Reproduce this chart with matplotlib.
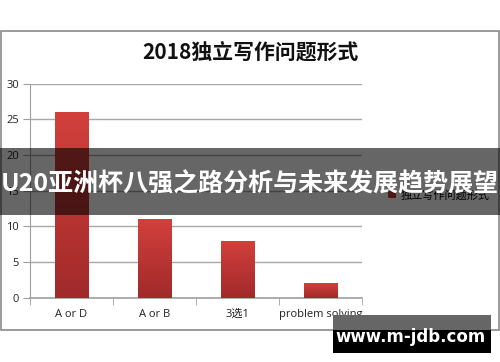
import matplotlib
matplotlib.use("Agg")
import matplotlib.pyplot as plt
from matplotlib.patches import Rectangle
from matplotlib.colors import LinearSegmentedColormap
import numpy as np

categories = ["A or D", "A or B", "3选1", "problem solving"]
values = [26, 11, 8, 2]
yticks = [0, 5, 10, 15, 20, 25, 30]
title = "2018独立写作问题形式"
series_name = "独立写作问题形式"
banner = "U20亚洲杯八强之路分析与未来发展趋势展望"
watermark = "www.m-jdb.com"

plt.rcParams['font.family'] = ['Open Sans', 'Noto Sans CJK SC', 'DejaVu Sans']

W, H = 500, 362
fig = plt.figure(figsize=(W / 100, H / 100), dpi=100)

def fx(x):
    return x / W

def fy(y):
    return 1 - y / H

# chart frame
fig.patches.append(Rectangle((fx(1), fy(329.5)), fx(498), (329.5 - 31) / H,
                             transform=fig.transFigure, facecolor='none',
                             edgecolor='#8a8a8a', linewidth=1.2, zorder=-1))

ax = fig.add_axes([fx(30), fy(297.7), fx(332), (297.7 - 83.5) / H])
ax.set_facecolor('none')
x = np.arange(len(categories))
bars = ax.bar(x, values, width=0.4, color='#c43a37', zorder=3, label=series_name)

# gradient fill
grad = np.linspace(0, 1, 256).reshape(-1, 1)
cmap = LinearSegmentedColormap.from_list('g', ['#a12a2a', '#d2403c'])
for b in bars:
    bx, by, bw, bh = b.get_x(), b.get_y(), b.get_width(), b.get_height()
    im = ax.imshow(grad, cmap=cmap, aspect='auto', origin='lower',
                   extent=(bx, bx + bw, by, by + bh), zorder=4)
    im.set_clip_path(b)
ax.set_xlim(-0.5, len(categories) - 0.5)
ax.set_ylim(0, 30)

ax.set_yticks(yticks)
ax.set_yticklabels([str(v) for v in yticks], fontsize=8, color='#222222')
ax.set_xticks(x)
ax.set_xticklabels(categories, fontsize=8, color='#222222')
ax.tick_params(axis='x', length=0, pad=8)
ax.tick_params(axis='y', length=5, color='#a0a0a0', pad=3)
ax.set_xticks(np.arange(-0.5, len(categories)), minor=True)
ax.tick_params(axis='x', which='minor', length=5, color='#a0a0a0')
ax.grid(axis='y', color='#a8a8a8', linewidth=1.0, zorder=1)
for s in ['top', 'right']:
    ax.spines[s].set_visible(False)
ax.spines['left'].set_color('#a0a0a0')
ax.spines['bottom'].set_color('#a0a0a0')
ax.spines['bottom'].set_linewidth(1.2)

fig.text(fx(250), fy(53), title, ha='center', va='center', fontsize=15,
         fontweight='bold', family=['Noto Sans CJK SC', 'DejaVu Sans'], color='#111111')

leg = fig.legend(handles=[bars], labels=[series_name], loc='center left',
                 bbox_to_anchor=(fx(378), fy(195)), frameon=False,
                 handlelength=0.7, handleheight=0.7, handletextpad=0.4,
                 prop={'family': ['Noto Sans CJK SC'], 'size': 8})

# banner overlay
fig.patches.append(Rectangle((0, fy(215)), 1, (215 - 148) / H,
                             transform=fig.transFigure, facecolor='black',
                             alpha=0.6, edgecolor='none', zorder=10))
fig.text(fx(250), fy(184), banner, ha='center', va='center', fontsize=18,
         fontweight='bold', color='white', family=['Noto Sans CJK SC'], zorder=11)

# watermark box
fig.patches.append(Rectangle((fx(333), fy(329.5)), fx(158), (329.5 - 315) / H,
                             transform=fig.transFigure, facecolor='#666666',
                             edgecolor='none', zorder=10))
fig.patches.append(Rectangle((fx(333), fy(353)), fx(158), (353 - 329.5) / H,
                             transform=fig.transFigure, facecolor='black',
                             edgecolor='none', zorder=10))
fig.text(fx(411), fy(336.5), watermark, ha='center', va='center', fontsize=12,
         fontweight='bold', color='white', family=['DejaVu Sans'], zorder=11)

fig.savefig('out.png', dpi=100)
